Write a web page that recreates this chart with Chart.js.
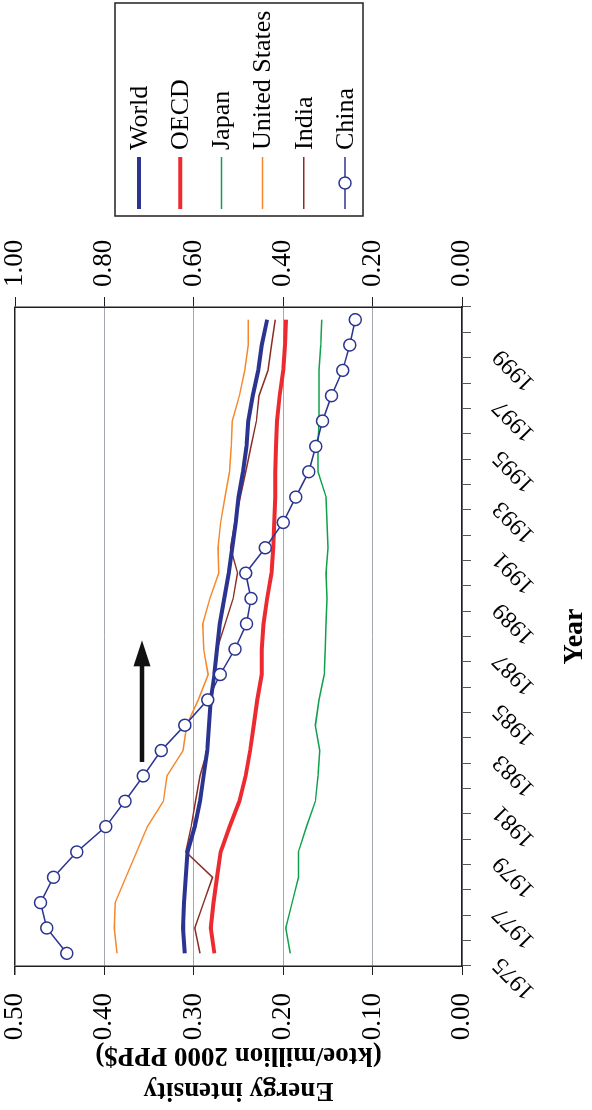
<!DOCTYPE html>
<html>
<head>
<meta charset="utf-8">
<script src="https://cdn.jsdelivr.net/npm/chart.js@4/dist/chart.umd.min.js"></script>
<style>
  html, body { margin: 0; padding: 0; background: #fff; overflow: hidden; }
  /* el gráfico se dibuja apaisado y se gira 90° */
  #wrap { position: absolute; left: 0; top: 0; width: 1110px; height: 592px;
          transform-origin: 0 0; transform: translate(0, 1110px) rotate(-90deg); }
</style>
</head>
<body>
<div id="wrap"><canvas id="grafico" width="1110" height="592"></canvas></div>
<script>
// --- DATOS ---
const years = [1975, 1976, 1977, 1978, 1979, 1980, 1981, 1982, 1983, 1984, 1985, 1986, 1987,
               1988, 1989, 1990, 1991, 1992, 1993, 1994, 1995, 1996, 1997, 1998, 1999, 2000];
const world = [0.310, 0.312, 0.311, 0.309, 0.307, 0.299, 0.293, 0.289, 0.285, 0.283, 0.281, 0.277, 0.274,
               0.271, 0.266, 0.261, 0.257, 0.253, 0.250, 0.245, 0.241, 0.239, 0.234, 0.228, 0.224, 0.218];
const oecd = [0.277, 0.281, 0.278, 0.274, 0.270, 0.260, 0.249, 0.242, 0.237, 0.233, 0.229, 0.224, 0.224,
              0.222, 0.218, 0.213, 0.211, 0.210, 0.209, 0.209, 0.208, 0.207, 0.204, 0.200, 0.198, 0.197];
const japan = [0.192, 0.197, 0.190, 0.183, 0.183, 0.174, 0.164, 0.161, 0.159, 0.164, 0.160, 0.154, 0.153,
               0.152, 0.151, 0.152, 0.150, 0.151, 0.152, 0.161, 0.161, 0.160, 0.160, 0.160, 0.158, 0.157];
const usa = [0.386, 0.389, 0.388, 0.376, 0.364, 0.352, 0.334, 0.330, 0.312, 0.308, 0.295, 0.284, 0.289,
             0.290, 0.282, 0.272, 0.273, 0.270, 0.265, 0.260, 0.258, 0.257, 0.249, 0.243, 0.239, 0.239];
const india = [0.293, 0.299, 0.289, 0.279, 0.309, 0.303, 0.298, 0.293, 0.285, 0.283, 0.281, 0.277, 0.274,
               0.265, 0.256, 0.251, 0.259, 0.254, 0.248, 0.242, 0.236, 0.230, 0.227, 0.217, 0.213, 0.209];
// China va en el eje derecho (0 - 1.00)
const china = [0.884, 0.929, 0.943, 0.914, 0.862, 0.797, 0.754, 0.713, 0.673, 0.620, 0.569, 0.541, 0.508,
               0.482, 0.472, 0.484, 0.440, 0.400, 0.372, 0.343, 0.327, 0.312, 0.292, 0.267, 0.251, 0.239];

const yearLabels = [1975, 1977, 1979, 1981, 1983, 1985, 1987, 1989, 1991, 1993, 1995, 1997, 1999];
const leftTitle = ['Energy intensity', '(ktoe/million 2000 PPP$)'];

// flecha (anotación)
const arrowFrom = 1983.05, arrowTo = 1987.85, arrowLevel = 0.358;

const FONT = '"Liberation Serif", "Times New Roman", serif';
const FRAME = '#231f20';
const GRID = '#a3a8b0';

// cada año ocupa una franja; el punto va en el centro
const puntos = (arr) => arr.map((v, i) => ({ x: years[i] + 0.5, y: v }));

function serie(label, arr, color, width, extra) {
    return Object.assign({
        label: label,
        data: puntos(arr),
        borderColor: color,
        backgroundColor: color,
        borderWidth: width,
        pointRadius: 0,
        tension: 0,
        order: 1,
        yAxisID: 'y'
    }, extra || {});
}

// ancho fijo del eje y sin relleno extra arriba/abajo
const fijarEje = (w) => (s) => { s.width = w; s.paddingTop = 0; s.paddingBottom = 0; };

// --- PLUGINS ---
const leyendaCaja = {
    id: 'leyendaCaja',
    afterDraw(chart) {
        const c = chart.ctx;
        c.save();
        c.strokeStyle = FRAME;
        c.lineWidth = 1.5;
        c.strokeRect(894, 115, 213, 248);
        chart.data.datasets.forEach((ds, i) => {
            const y = 139 + i * 41.2;
            c.strokeStyle = ds.borderColor;
            c.lineWidth = ds.borderWidth;
            c.beginPath(); c.moveTo(901, y); c.lineTo(953, y); c.stroke();
            if (ds.pointRadius > 0) {
                c.beginPath();
                c.arc(927, y, ds.pointRadius, 0, Math.PI * 2);
                c.fillStyle = '#fff'; c.fill(); c.stroke();
            }
            c.fillStyle = '#000';
            c.font = '26px ' + FONT;
            c.textBaseline = 'middle';
            c.fillText(ds.label, 960, y + 1);
        });
        c.restore();
    }
};

const flecha = {
    id: 'flecha',
    afterDatasetsDraw(chart) {
        const { x, y } = chart.scales;
        const c = chart.ctx;
        const x0 = x.getPixelForValue(arrowFrom);
        const x1 = x.getPixelForValue(arrowTo);
        const yy = y.getPixelForValue(arrowLevel);
        c.save();
        c.strokeStyle = '#111'; c.fillStyle = '#111';
        c.lineWidth = 4.5;
        c.beginPath(); c.moveTo(x0, yy); c.lineTo(x1 - 22, yy); c.stroke();
        c.beginPath();
        c.moveTo(x1, yy); c.lineTo(x1 - 26, yy - 8.5); c.lineTo(x1 - 26, yy + 8.5); c.closePath();
        c.fill();
        c.restore();
    }
};

// --- GRÁFICO ---
const ctx = document.getElementById('grafico').getContext('2d');
new Chart(ctx, {
    type: 'line',
    data: {
        datasets: [
            serie('World', world, '#2b3591', 4),
            serie('OECD', oecd, '#ec2a2f', 4),
            serie('Japan', japan, '#10a04c', 1.5),
            serie('United States', usa, '#f6872a', 1.5),
            serie('India', india, '#8a2d23', 1.5),
            serie('China', china, '#2b3591', 1.5, {
                yAxisID: 'y2', pointRadius: 6, pointHoverRadius: 6,
                pointBackgroundColor: '#fff', pointBorderColor: '#2b3591', pointBorderWidth: 1.5,
                order: 0
            })
        ]
    },
    options: {
        responsive: false,
        animation: false,
        devicePixelRatio: 1,
        layout: { padding: { top: 15, right: 227, left: 0, bottom: 0 } },
        plugins: { legend: { display: false }, tooltip: { enabled: false } },
        scales: {
            x: {
                type: 'linear', position: 'bottom', min: 1975, max: 2001,
                afterFit: (s) => { s.height = 130; },
                ticks: {
                    stepSize: 1, autoSkip: false, maxRotation: 45, minRotation: 45,
                    padding: 16, labelOffset: 5, color: '#000', font: { family: FONT, size: 24 },
                    callback: (v) => yearLabels.includes(v) ? String(v) : ''
                },
                grid: { drawOnChartArea: false, tickLength: 9, color: '#555', tickColor: '#555' },
                border: { color: FRAME, width: 1.5 },
                title: { display: true, text: 'Year', color: '#000', padding: { top: 0, bottom: 0 },
                         font: { family: FONT, size: 28, weight: 'bold' } }
            },
            y: {
                position: 'left', min: 0, max: 0.5,
                afterFit: fijarEje(144),
                ticks: { stepSize: 0.1, padding: 18, color: '#000', font: { family: FONT, size: 27 },
                         callback: (v) => v.toFixed(2) },
                grid: {
                    color: (c) => Math.abs(c.tick.value - 0.5) < 1e-6 ? FRAME : GRID,
                    lineWidth: (c) => Math.abs(c.tick.value - 0.5) < 1e-6 ? 1.5 : 1,
                    tickColor: FRAME, tickLength: 9
                },
                border: { color: FRAME, width: 1.5 },
                title: { display: true, text: leftTitle, color: '#000', padding: { top: 2, bottom: 0 },
                         font: { family: FONT, size: 27, weight: 'bold', lineHeight: 1.3 } }
            },
            y2: {
                position: 'right', min: 0, max: 1,
                afterFit: fijarEje(80),
                ticks: { stepSize: 0.2, padding: 10, color: '#000', font: { family: FONT, size: 27 },
                         callback: (v) => v.toFixed(2) },
                grid: { drawOnChartArea: false, tickColor: FRAME, tickLength: 10 },
                border: { color: FRAME, width: 1.5 }
            }
        }
    },
    plugins: [flecha, leyendaCaja]
});
</script>
</body>
</html>
